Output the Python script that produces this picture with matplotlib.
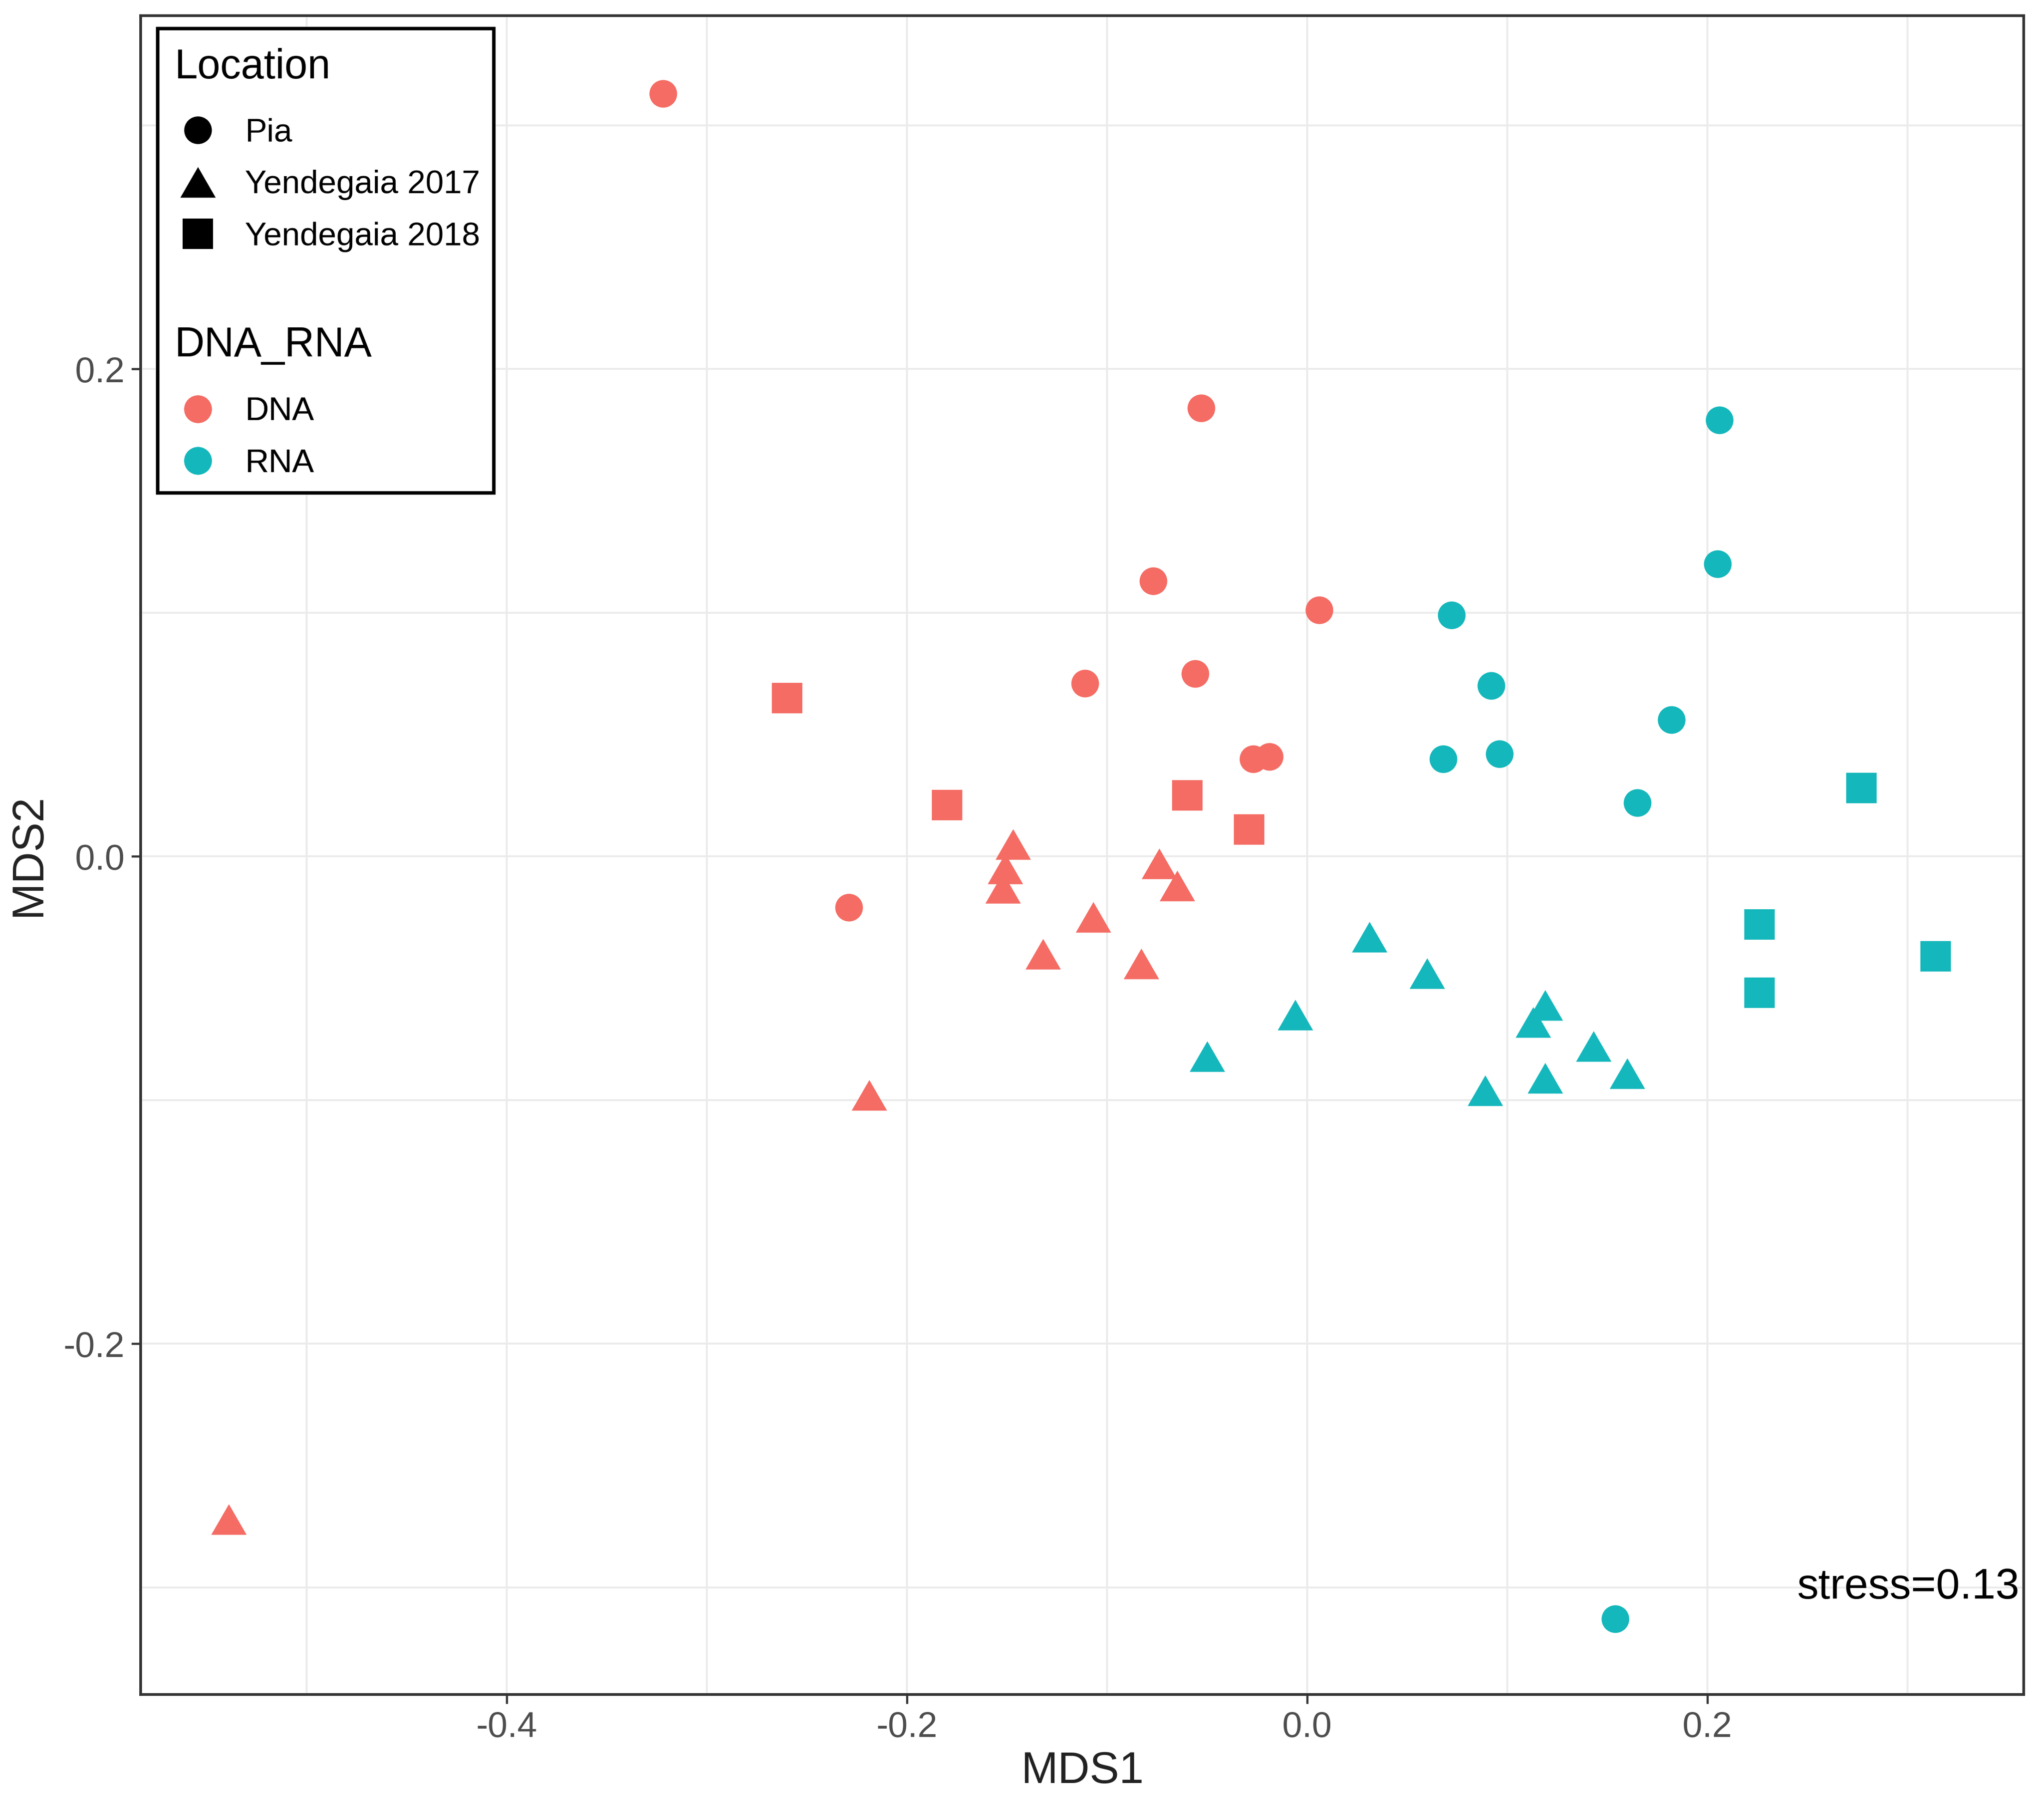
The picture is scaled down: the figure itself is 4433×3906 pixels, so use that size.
import matplotlib
matplotlib.use("Agg")
import matplotlib.pyplot as plt
from matplotlib.lines import Line2D
from matplotlib.patches import Rectangle
from matplotlib.ticker import FormatStrFormatter

plt.rcParams['font.family'] = ['Liberation Sans', 'DejaVu Sans']

# ---- data (MDS1, MDS2) ----
dna_pia_x = [-0.322, -0.053, -0.077, 0.006, -0.111, -0.056, -0.027, -0.019, -0.229]
dna_pia_y = [0.313, 0.184, 0.113, 0.101, 0.071, 0.075, 0.040, 0.041, -0.021]
dna_y18_x = [-0.260, -0.180, -0.060, -0.029]
dna_y18_y = [0.065, 0.021, 0.025, 0.011]
dna_y17_x = [-0.147, -0.151, -0.152, -0.074, -0.065, -0.107, -0.132, -0.083, -0.219, -0.539]
dna_y17_y = [0.005, -0.005, -0.013, -0.003, -0.012, -0.025, -0.040, -0.044, -0.098, -0.272]

rna_pia_x = [0.206, 0.205, 0.072, 0.092, 0.068, 0.096, 0.182, 0.165, 0.154]
rna_pia_y = [0.179, 0.120, 0.099, 0.070, 0.040, 0.042, 0.056, 0.022, -0.313]
rna_y18_x = [0.277, 0.226, 0.226, 0.314]
rna_y18_y = [0.028, -0.028, -0.056, -0.041]
rna_y17_x = [0.031, 0.060, -0.006, -0.050, 0.119, 0.113, 0.143, 0.119, 0.089, 0.160]
rna_y17_y = [-0.033, -0.048, -0.065, -0.082, -0.061, -0.068, -0.078, -0.091, -0.096, -0.089]

locations = ["Pia", "Yendegaia 2017", "Yendegaia 2018"]
groups = ["DNA", "RNA"]
stress_label = "stress=0.13"
x_ticks = [-0.4, -0.2, 0.0, 0.2]
y_ticks = [-0.2, 0.0, 0.2]

col_dna = '#F46C64'
col_rna = '#14B7BB'
tri = [(-1, -0.866), (1, -0.866), (0, 0.866)]

fig = plt.figure(figsize=(4433 / 300, 3906 / 300), dpi=300)
ax = fig.add_axes([0.0688, 0.0591, 0.9212, 0.9322])

ms_c, ms_t, ms_s = 14.4, 18.4, 16.0
for xs, ys, col in [(dna_pia_x, dna_pia_y, col_dna), (rna_pia_x, rna_pia_y, col_rna)]:
    ax.plot(xs, ys, ls='none', marker='o', ms=ms_c, color=col, mew=0, zorder=3)
for xs, ys, col in [(dna_y17_x, dna_y17_y, col_dna), (rna_y17_x, rna_y17_y, col_rna)]:
    ax.plot(xs, ys, ls='none', marker=tri, ms=ms_t, color=col, mew=0, zorder=3)
for xs, ys, col in [(dna_y18_x, dna_y18_y, col_dna), (rna_y18_x, rna_y18_y, col_rna)]:
    ax.plot(xs, ys, ls='none', marker='s', ms=ms_s, color=col, mew=0, zorder=3)

ax.set_xlim(-0.583, 0.358)
ax.set_ylim(-0.344, 0.345)
ax.set_xticks(x_ticks)
ax.set_yticks(y_ticks)
ax.xaxis.set_major_formatter(FormatStrFormatter('%.1f'))
ax.yaxis.set_major_formatter(FormatStrFormatter('%.1f'))
ax.set_xticks([-0.5, -0.3, -0.1, 0.1, 0.3], minor=True)
ax.set_yticks([-0.3, -0.1, 0.1, 0.3], minor=True)
ax.grid(True, which='both', color='#EBEBEB', lw=1.0, zorder=0)
ax.set_axisbelow(True)
ax.tick_params(which='major', direction='out', length=4.8, width=1.1, color='#333333',
               labelsize=18.5, labelcolor='#4D4D4D', pad=3.5)
ax.tick_params(which='minor', length=0)
for sp in ax.spines.values():
    sp.set_color('#333333')
    sp.set_linewidth(1.4)

ax.set_xlabel("MDS1", fontsize=23, color='#222222', labelpad=3.5)
ax.set_ylabel("MDS2", fontsize=23, color='#222222', labelpad=7.3)

ax.text(0.356, -0.300, stress_label, ha='right', va='center', fontsize=22.3, color='black', zorder=4)

# ---- legends ----
ax.add_patch(Rectangle((0.00906, 0.7157), 0.1785, 0.2766, transform=ax.transAxes,
                       fill=True, facecolor='white', edgecolor='black', lw=1.8, zorder=5))

leg_kw = dict(frameon=False, fontsize=17, handlelength=1.44, handletextpad=0.72,
              labelspacing=0.66, borderpad=0.0, borderaxespad=0.0, loc='center left')
shape_markers = ['o', tri, 's']
shape_sizes = [ms_c, ms_t, ms_s]
h1 = [Line2D([], [], ls='none', marker=m, ms=s, color='black', mew=0)
      for m, s in zip(shape_markers, shape_sizes)]
leg1 = ax.legend(h1, locations, bbox_to_anchor=(0.018, 0.8991), **leg_kw)
leg1.set_zorder(6)
ax.add_artist(leg1)
h2 = [Line2D([], [], ls='none', marker='o', ms=ms_c, color=c, mew=0) for c in [col_dna, col_rna]]
leg2 = ax.legend(h2, groups, bbox_to_anchor=(0.018, 0.7485), **leg_kw)
leg2.set_zorder(6)
ax.add_artist(leg2)

ax.text(0.018, 0.969, "Location", transform=ax.transAxes, ha='left', va='center',
        fontsize=21.5, color='black', zorder=7)
ax.text(0.018, 0.8035, "DNA_RNA", transform=ax.transAxes, ha='left', va='center',
        fontsize=21.5, color='black', zorder=7)

fig.savefig("out.png", dpi=300)
